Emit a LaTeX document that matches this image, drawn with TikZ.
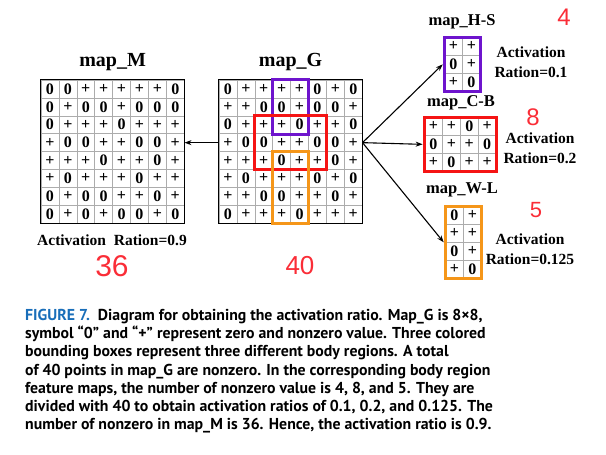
\documentclass[tikz,border=0pt]{standalone}
\usepackage{fontspec}
\setmainfont{Liberation Serif}
\newfontfamily\capfont{PT Sans}
\newfontfamily\handfont{Liberation Sans}
\usepackage{tikz}
\usetikzlibrary{arrows.meta,positioning,fit}
\definecolor{hspurple}{RGB}{110,20,205}
\definecolor{cbred}{RGB}{245,20,20}
\definecolor{wlorange}{RGB}{245,150,25}
\definecolor{figblue}{RGB}{25,110,185}
\definecolor{penred}{RGB}{250,45,55}

\tikzset{
  cell/.style={draw=gray!65, line width=0.6pt, minimum size=17.9pt, inner sep=0pt,
    font=\bfseries\fontsize{16}{16}\selectfont},
  frame/.style={draw, line width=0.9pt, inner sep=0pt},
  region/.style={line width=3pt, inner sep=0pt},
  maptitle/.style={font=\bfseries\fontsize{20}{20}\selectfont},
  subtitle/.style={font=\bfseries\fontsize{16.5}{16.5}\selectfont},
  ratio/.style={font=\bfseries\fontsize{15.5}{19.5}\selectfont, align=center},
  link/.style={-{Stealth[length=7pt,width=5pt]}, line width=1.1pt},
  pen/.style={text=penred, font=\handfont\fontsize{#1}{#1}\selectfont},
}

% cells of a feature map: name, left, top, rows
\newcommand{\fillmap}[4]{%
  \foreach \rowvals [count=\r] in {#4} {
    \foreach \v [count=\c] in \rowvals {
      \node[cell] (#1-\r-\c) at ({#2+(\c-0.5)*17.9},{#3+(\r-0.5)*17.9}) {\v};
    }
  }
}

\begin{document}
\begin{tikzpicture}[x=1pt,y=-1pt]
  \useasboundingbox (0,0) rectangle (606,455);

  % map_M
  \fillmap{M}{41}{80}{{0,0,+,+,+,+,+,0},{0,+,0,0,+,0,0,0},{0,+,+,+,0,+,+,+},{+,0,0,+,+,0,0,+},
    {+,+,+,0,+,+,0,+},{+,0,+,+,+,0,+,+},{0,+,0,0,+,+,0,+},{0,+,0,+,0,0,+,0}}
  \node[frame, fit=(M-1-1)(M-8-8)] (mapM) {};
  \node[maptitle, above=5pt of mapM] (titleM) {map\_M};
  \node[font=\bfseries\fontsize{15.5}{15.5}\selectfont] (ratioM) at (112,240) {Activation\ \ Ration=0.9};

  % map_G
  \fillmap{G}{219}{80}{{0,+,+,+,+,0,+,0},{+,+,0,0,+,0,0,+},{0,+,+,+,0,+,+,0},{+,0,0,+,+,0,0,+},
    {+,+,+,0,+,+,0,+},{+,0,+,+,+,0,+,0},{+,+,0,0,+,+,0,+},{0,+,+,+,0,+,+,+}}
  \node[frame, fit=(G-1-1)(G-8-8)] (mapG) {};
  \node[maptitle, above=5pt of mapG] (titleG) {map\_G};
  % body regions
  \node[region, draw=hspurple, fit=(G-1-4)(G-3-5)] (regHS) {};
  \node[region, draw=cbred, fit=(G-3-3)(G-5-6)] (regCB) {};
  \node[region, draw=wlorange, fit=(G-5-4)(G-8-5)] (regWL) {};

  % map_H-S
  \fillmap{H}{444.5}{37.5}{{+,+},{0,+},{+,0}}
  \node[region, draw=hspurple, fit=(H-1-1)(H-3-2)] (mapHS) {};
  \node[subtitle] (titleHS) at (462,22) {map\_H-S};
  \node[ratio] (ratioHS) at (531,62) {Activation\\Ration=0.1};

  % map_C-B
  \fillmap{C}{424.5}{117.5}{{+,+,0,+},{0,+,+,0},{+,0,+,+}}
  \node[region, draw=cbred, fit=(C-1-1)(C-3-4)] (mapCB) {};
  \node[subtitle] (titleCB) at (461,103) {map\_C-B};
  \node[ratio] (ratioCB) at (540,148) {Activation\\Ration=0.2};

  % map_W-L
  \fillmap{W}{445.5}{206.5}{{0,+},{+,+},{0,+},{+,0}}
  \node[region, draw=wlorange, fit=(W-1-1)(W-4-2)] (mapWL) {};
  \node[subtitle] (titleWL) at (462,190) {map\_W-L};
  \node[ratio] (ratioWL) at (530,249) {Activation\\Ration=0.125};

  % arrows
  \draw[link] (G-4-1.west) -- (M-4-8.east);
  \draw[link] (G-4-8.east) -- (mapHS.west);
  \draw[link] (G-4-8.east) -- (mapCB.west);
  \draw[link] (G-4-8.east) -- (mapWL.west);

  % pen notes
  \node[pen=24] (noteHS) at (564,17) {4};
  \node[pen=24] (noteCB) at (533,117) {8};
  \node[pen=22] (noteWL) at (536,210) {5};
  \node[pen=30] (noteM) at (112,266) {36};
  \node[pen=26] (noteG) at (300,266) {40};

  % caption
  \node[anchor=north west, align=left, inner sep=0pt,
    font=\capfont\bfseries\fontsize{15.8}{18.2}\selectfont] (caption) at (25,309)
    {{\color{figblue}FIGURE 7.}\ \ Diagram for obtaining the activation ratio. Map\_G is 8×8,\\
     symbol “0” and “+” represent zero and nonzero value. Three colored\\
     bounding boxes represent three different body regions. A total\\
     of 40 points in map\_G are nonzero. In the corresponding body region\\
     feature maps, the number of nonzero value is 4, 8, and 5. They are\\
     divided with 40 to obtain activation ratios of 0.1, 0.2, and 0.125. The\\
     number of nonzero in map\_M is 36. Hence, the activation ratio is 0.9.};
\end{tikzpicture}
\end{document}
